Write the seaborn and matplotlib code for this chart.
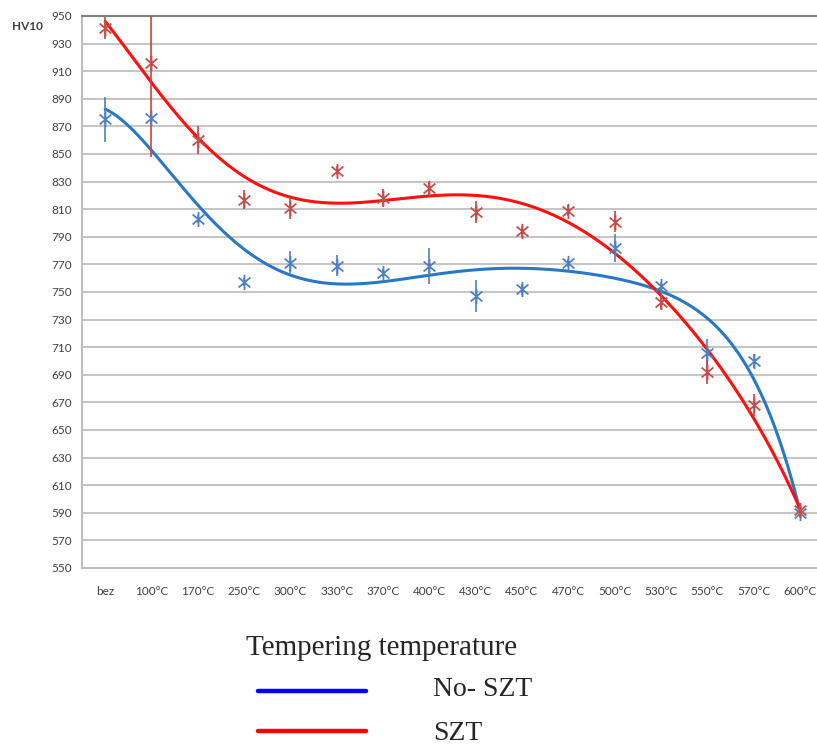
import numpy as np
import pandas as pd
import matplotlib
matplotlib.use("Agg")
import matplotlib.pyplot as plt
from matplotlib.path import Path
from matplotlib.lines import Line2D
import seaborn as sns

categories = ["bez", "100°C", "170°C", "250°C", "300°C", "330°C", "370°C", "400°C",
              "430°C", "450°C", "470°C", "500°C", "530°C", "550°C", "570°C", "600°C"]
szt_values = [941, 916, 860, 817, 811, 838, 818, 825, 808, 794, 809, 801, 743, 692, 668, 592]
szt_errors = [8, 68, 10, 7, 8, 3, 6.5, 5, 8, 4, 4, 7.5, 5, 9, 8, 3]
noszt_values = [875, 876, 803, 757, 771, 769, 764, 769, 747, 752, 771, 782, 754, 706, 700, 590]
noszt_errors = [16, 3, 3, 3, 8.5, 7.5, 3, 13, 11.5, 4, 3, 10, 3, 10, 5, 3]
y_ticks = list(range(550, 951, 20))
trend_degree = 6

sns.set_theme(style="white")
plt.rcParams["font.family"] = ["Lato", "DejaVu Sans"]

W, H = 817, 746
fig = plt.figure(figsize=(W / 100, H / 100), dpi=100)
ax = fig.add_axes([82 / W, 1 - 568 / H, (823 - 82) / W, (568 - 16) / H])

xpos = np.arange(len(categories))

star = Path([(-1, -0.85), (1, 0.85), (-1, 0.85), (1, -0.85), (0, -1.3), (0, 1.3)],
            [Path.MOVETO, Path.LINETO, Path.MOVETO, Path.LINETO, Path.MOVETO, Path.LINETO])

red_m = "#C0504D"
blue_m = "#4F81BD"

# trend lines (polynomial fit of the data)
xs = np.linspace(0, len(categories) - 1, 400)
for vals, col in [(noszt_values, "#2A78C4"), (szt_values, "#FF1010")]:
    coefs = np.polyfit(xpos, vals, trend_degree)
    sns.lineplot(x=xs, y=np.polyval(coefs, xs), ax=ax, color=col, lw=2.2, zorder=3)

# error bars
ax.errorbar(xpos, noszt_values, yerr=noszt_errors, fmt="none", ecolor=blue_m, elinewidth=1.2, zorder=4)
ax.errorbar(xpos, szt_values, yerr=szt_errors, fmt="none", ecolor="#D04040", elinewidth=1.2, zorder=4)

for vals, col in [(noszt_values, blue_m), (szt_values, red_m)]:
    d = pd.DataFrame({"x": xpos, "y": vals})
    sns.scatterplot(data=d, x="x", y="y", marker=star, s=120, color=col, edgecolor=col,
                    linewidth=1.3, legend=False, ax=ax, zorder=5)

ax.set_xlim(-0.5, len(categories) - 0.5)
ax.set_ylim(550, 950)
ax.set_yticks(y_ticks)
ax.set_xticks(xpos)
ax.set_xticklabels(categories)
ax.set_xlabel("")
ax.set_ylabel("")
ax.yaxis.grid(True, color="#C0C0C0", lw=1.3)
ax.xaxis.grid(False)
ax.set_axisbelow(True)
for side in ["left", "bottom"]:
    ax.spines[side].set_color("#BFBFBF")
    ax.spines[side].set_linewidth(1.5)
ax.spines["top"].set_color("#7F7F7F")
ax.spines["top"].set_linewidth(1.5)
ax.spines["right"].set_visible(False)
ax.tick_params(axis="y", length=0, pad=7, labelsize=8.5, labelcolor="#404040")
ax.tick_params(axis="x", length=0, pad=13, labelsize=8.5, labelcolor="#404040")

fig.text(12 / W, 1 - 27 / H, "HV10", fontsize=8.5, fontweight="bold", color="#404040", va="center", ha="left")

serif = ["Liberation Serif", "DejaVu Serif"]
fig.text(246 / W, 1 - 648 / H, "Tempering temperature", fontsize=21, family=serif, va="center", ha="left")
fig.text(433 / W, 1 - 690 / H, "No- SZT", fontsize=20, family=serif, va="center", ha="left")
fig.text(433 / W, 1 - 733 / H, "SZT", fontsize=20, family=serif, va="center", ha="left")
fig.add_artist(Line2D([258 / W, 366 / W], [1 - 691 / H, 1 - 691 / H], color="#0000FF", lw=3.2,
                      transform=fig.transFigure))
fig.add_artist(Line2D([258 / W, 366 / W], [1 - 731 / H, 1 - 731 / H], color="#FF0000", lw=3.2,
                      transform=fig.transFigure))

fig.savefig("out.png", dpi=100, facecolor="white")
